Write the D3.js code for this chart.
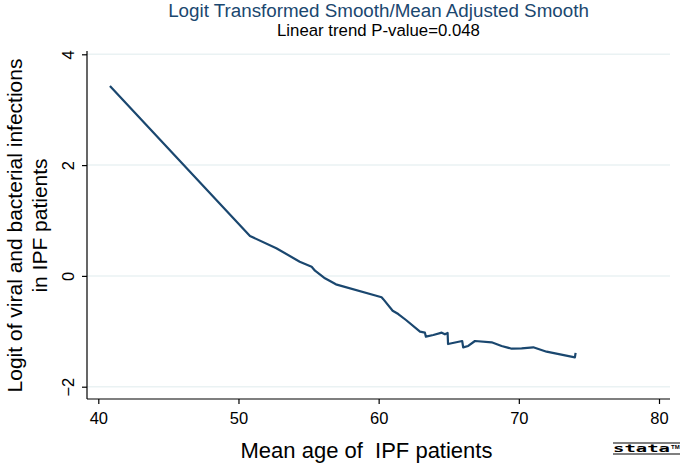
<!DOCTYPE html>
<html><head><meta charset="utf-8">
<script src="https://cdn.jsdelivr.net/npm/d3@7"></script>
<style>body{margin:0;background:#fff}svg{display:block;font-family:"Liberation Sans",Arial,sans-serif}</style>
</head><body><svg id="c" width="685" height="464"></svg>
<script>
const ages = [40.83, 50.82, 52.7, 54.37, 55.22, 55.46, 56.17, 56.95, 60.21, 60.33, 61.0, 61.4, 61.95, 62.95, 63.3, 63.37, 63.9, 64.5, 64.73, 64.92, 64.95, 65.96, 66.03, 66.39, 66.87, 68.06, 68.77, 69.49, 70.2, 71.03, 71.98, 74.0, 74.05];
const logit = [3.43, 0.72, 0.5, 0.256, 0.166, 0.094, -0.043, -0.152, -0.386, -0.42, -0.628, -0.688, -0.796, -1.007, -1.025, -1.097, -1.067, -1.025, -1.055, -1.03, -1.23, -1.175, -1.29, -1.265, -1.175, -1.199, -1.265, -1.314, -1.307, -1.289, -1.368, -1.47, -1.39];
const xTicks = [40, 50, 60, 70, 80];
const yTicks = [-2, 0, 2, 4];
const titleText = "Logit Transformed Smooth/Mean Adjusted Smooth";
const subtitleText = "Linear trend P-value=0.048";
const xTitle = "Mean age of  IPF patients";
const yTitle = ["Logit of viral and bacterial infections", "in IPF patients"];

const svg = d3.select("#c");
const L = 87, R = 670, T = 51, B = 399;
const x = d3.scaleLinear().domain([40, 80]).range([98.3, 659]);
const y = d3.scaleLinear().domain([-2, 4]).range([386.7, 54.3]);
const navy = "#1a476f";

// gridlines
svg.append("g").selectAll("line").data(yTicks).join("line")
  .attr("x1", L).attr("x2", R).attr("y1", d => y(d)).attr("y2", d => y(d))
  .attr("stroke", "#eaf2f3").attr("stroke-width", 1.5);

// axes
const xa = svg.append("g").attr("transform", `translate(0,${B})`)
  .call(d3.axisBottom(x).tickValues(xTicks).tickFormat(d3.format("d")).tickSize(5).tickPadding(4));
xa.select(".domain").attr("d", `M${L},0H${R}`);
const ya = svg.append("g").attr("transform", `translate(${L},0)`)
  .call(d3.axisLeft(y).tickValues(yTicks).tickFormat(d3.format("d")).tickSize(5).tickPadding(4));
ya.select(".domain").attr("d", `M0,${T}V${B}`);
[xa, ya].forEach(a => {
  a.selectAll(".domain").attr("stroke", "#000").attr("stroke-width", 1.2);
  a.selectAll(".tick line").attr("stroke", "#000").attr("stroke-width", 1.2);
  a.selectAll("text").attr("fill", "#000").attr("font-size", 16.5).attr("font-family", "Liberation Sans, Arial, sans-serif");
});
ya.selectAll(".tick text").each(function(){
  d3.select(this).attr("x", null).attr("text-anchor", "middle")
    .attr("transform", "translate(-19,0) rotate(-90)").attr("dy", "0.35em");
});
xa.selectAll(".tick text").attr("y", 9).attr("dy", "0.95em");

// line
const pts = ages.map((a, i) => [a, logit[i]]);
svg.append("path").datum(pts)
  .attr("fill", "none").attr("stroke", navy).attr("stroke-width", 2.2).attr("stroke-linejoin", "round")
  .attr("d", d3.line().x(d => x(d[0])).y(d => y(d[1])));

// titles
const cx = (L + R) / 2;
svg.append("text").attr("x", cx).attr("y", 17).attr("text-anchor", "middle")
  .attr("fill", navy).attr("font-size", 18.8).text(titleText);
svg.append("text").attr("x", cx).attr("y", 36).attr("text-anchor", "middle")
  .attr("fill", "#000").attr("font-size", 16.8).text(subtitleText);
svg.append("text").attr("x", 366.5).attr("y", 458).attr("text-anchor", "middle")
  .attr("fill", "#000").attr("font-size", 22).style("white-space", "pre").text(xTitle);
const yc = 225.5;
yTitle.forEach((s, i) => {
  svg.append("text").attr("transform", `translate(${22 + i * 25},${yc}) rotate(-90)`)
    .attr("text-anchor", "middle").attr("fill", "#000").attr("font-size", 21).text(s);
});

// stata logo
const lg = svg.append("g").attr("transform", "translate(613,443)");
lg.append("line").attr("x1", 0).attr("x2", 67).attr("y1", 0).attr("y2", 0).attr("stroke", "#000").attr("stroke-width", 1.2);
lg.append("line").attr("x1", 0).attr("x2", 67).attr("y1", 11).attr("y2", 11).attr("stroke", "#000").attr("stroke-width", 1.2);
lg.append("text").attr("x", 0).attr("y", 9).attr("font-size", 10).attr("font-weight", "bold")
  .attr("font-family", "DejaVu Sans Mono, monospace").attr("textLength", 57).attr("lengthAdjust", "spacingAndGlyphs").text("stata");
lg.append("text").attr("x", 58).attr("y", 6).attr("font-size", 6).attr("font-weight", "bold").text("TM");
</script></body></html>
